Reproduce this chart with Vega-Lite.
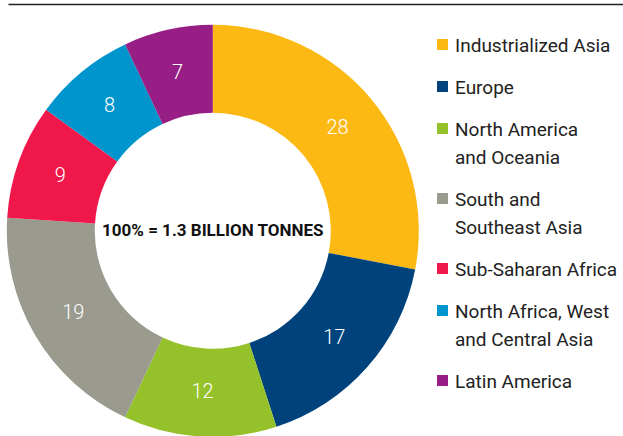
{
  "$schema": "https://vega.github.io/schema/vega-lite/v6.json",
  "autosize": {"type": "fit", "contains": "padding"},
  "width": 623,
  "height": 436,
  "padding": {"left": 8, "top": 4, "right": 0, "bottom": 0},
  "background": "white",
  "config": {
    "view": {"stroke": null},
    "font": "Roboto"
  },
  "datasets": {
    "regions": [
      {"region": "Industrialized Asia", "value": 28, "idx": 1},
      {"region": "Europe", "value": 17, "idx": 2},
      {"region": "North America and Oceania", "value": 12, "idx": 3},
      {"region": "South and Southeast Asia", "value": 19, "idx": 4},
      {"region": "Sub-Saharan Africa", "value": 9, "idx": 5},
      {"region": "North Africa, West and Central Asia", "value": 8, "idx": 6},
      {"region": "Latin America", "value": 7, "idx": 7}
    ],
    "center": [{"label": "100% = 1.3 BILLION TONNES"}]
  },
  "layer": [
    {
      "data": {"name": "regions"},
      "mark": {"type": "arc", "outerRadius": 206, "innerRadius": 118},
      "encoding": {
        "x": {"datum": 0.333, "type": "quantitative", "scale": {"domain": [0, 1]},
              "axis": {"orient": "top", "domainColor": "#222222", "domainWidth": 1.6, "ticks": false, "labels": false, "grid": false, "title": null}},
        "y": {"datum": 0.475, "type": "quantitative", "scale": {"domain": [0, 1]}, "axis": null},
        "theta": {"field": "value", "type": "quantitative", "stack": true},
        "order": {"field": "idx", "type": "quantitative"},
        "color": {
          "field": "region", "type": "nominal",
          "scale": {
            "domain": ["Industrialized Asia", "Europe", "North America and Oceania", "South and Southeast Asia", "Sub-Saharan Africa", "North Africa, West and Central Asia", "Latin America"],
            "range": ["#FDB913", "#00437C", "#95C12B", "#9A9A8F", "#F0184B", "#0095CC", "#971E84"]
          },
          "legend": {
            "title": null,
            "orient": "none",
            "legendX": 425,
            "legendY": 31,
            "symbolType": "square",
            "symbolSize": 121,
            "symbolStrokeWidth": 0,
            "labelFont": "Roboto",
            "labelFontSize": 19,
            "labelColor": "#222222",
            "labelOffset": 3,
            "labelLimit": 300,
            "labelBaseline": "top",
            "rowPadding": 21,
            "encode": {"labels": {"update": {"dy": {"value": -8}, "lineHeight": {"value": 28}}}},
            "labelExpr": "datum.label == 'North America and Oceania' ? ['North America', 'and Oceania'] : datum.label == 'South and Southeast Asia' ? ['South and', 'Southeast Asia'] : datum.label == 'North Africa, West and Central Asia' ? ['North Africa, West', 'and Central Asia'] : datum.label"
          }
        }
      }
    },
    {
      "data": {"name": "regions"},
      "mark": {"type": "text", "radius": 162, "fontSize": 20, "fontWeight": 300, "color": "white", "font": "Roboto"},
      "encoding": {
        "x": {"datum": 0.333, "type": "quantitative", "scale": {"domain": [0, 1]}},
        "y": {"datum": 0.475, "type": "quantitative", "scale": {"domain": [0, 1]}},
        "theta": {"field": "value", "type": "quantitative", "stack": true},
        "order": {"field": "idx", "type": "quantitative"},
        "text": {"field": "value", "type": "quantitative"}
      }
    },
    {
      "data": {"name": "center"},
      "mark": {"type": "text", "fontSize": 17, "fontWeight": "bold", "color": "#111111", "font": "Roboto"},
      "encoding": {
        "x": {"datum": 0.333, "type": "quantitative", "scale": {"domain": [0, 1]}},
        "y": {"datum": 0.475, "type": "quantitative", "scale": {"domain": [0, 1]}},
        "text": {"field": "label", "type": "nominal"}
      }
    }
  ]
}
